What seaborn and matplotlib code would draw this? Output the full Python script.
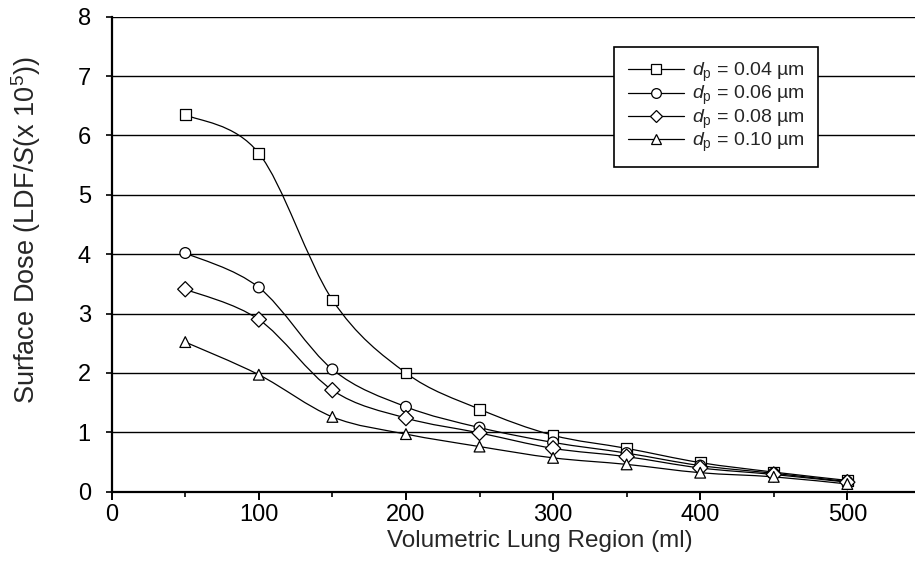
import numpy as np
import pandas as pd
import matplotlib
matplotlib.use("Agg")
import matplotlib.pyplot as plt
from matplotlib.path import Path
from matplotlib.patches import PathPatch
from matplotlib.lines import Line2D
import seaborn as sns

# Valeurs
volumes = [50, 100, 150, 200, 250, 300, 350, 400, 450, 500]
dose_004 = [6.35, 5.70, 3.23, 2.00, 1.39, 0.95, 0.73, 0.49, 0.33, 0.19]
dose_006 = [4.02, 3.44, 2.06, 1.43, 1.08, 0.83, 0.65, 0.44, 0.31, 0.17]
dose_008 = [3.41, 2.90, 1.71, 1.24, 0.99, 0.73, 0.59, 0.40, 0.29, 0.16]
dose_010 = [2.52, 1.97, 1.26, 0.97, 0.76, 0.57, 0.46, 0.32, 0.25, 0.13]
diametres = ["0.04", "0.06", "0.08", "0.10"]
marqueurs = ["s", "o", "D", "^"]

series = [dose_004, dose_006, dose_008, dose_010]
df = pd.concat([pd.DataFrame({"vol": volumes, "dose": s, "dp": d})
                for s, d in zip(series, diametres)], ignore_index=True)

sns.set_theme(style="white")
plt.rcParams["font.family"] = ["Liberation Sans", "DejaVu Sans"]
plt.rcParams["mathtext.fontset"] = "custom"
plt.rcParams["mathtext.rm"] = "Liberation Sans"
plt.rcParams["mathtext.it"] = "Liberation Sans:italic"


# Courbe lissée (type Excel) : Bezier a partir des points
def courbe_lisse(x, y):
    p = np.column_stack([x, y]).astype(float)
    n = len(p)
    verts = [p[0]]
    codes = [Path.MOVETO]
    for i in range(n - 1):
        prev = p[i - 1] if i > 0 else p[i]
        nxt = p[i + 2] if i + 2 < n else p[i + 1]
        c1 = p[i] + (p[i + 1] - prev) / 6
        c2 = p[i + 1] - (nxt - p[i]) / 6
        verts += [c1, c2, p[i + 1]]
        codes += [Path.CURVE4] * 3
    return Path(verts, codes)


fig = plt.figure(figsize=(9.15, 5.77), dpi=100)
ax = fig.add_axes([111.7 / 915, 1 - 491.7 / 577, (915 - 111.7) / 915, 475 / 577])

# Lignes lissées
for s in series:
    ax.add_patch(PathPatch(courbe_lisse(volumes, s), fill=False, edgecolor="black",
                           lw=0.9, zorder=2))

# Marqueurs
sns.scatterplot(data=df, x="vol", y="dose", style="dp", markers=dict(zip(diametres, marqueurs)),
                color="white", edgecolor="black", linewidth=0.9, s=60, zorder=3,
                legend=False, ax=ax)

ax.set_xlim(0, 546)
ax.set_ylim(0, 8)
ax.set_xticks(range(0, 501, 100))
ax.set_xticks(range(50, 501, 100), minor=True)
ax.set_yticks(range(0, 9))
ax.yaxis.grid(True, color="black", lw=1.0)
ax.set_axisbelow(True)

for side in ["right", "top"]:
    ax.spines[side].set_visible(False)
for side in ["left", "bottom"]:
    ax.spines[side].set_color("black")
    ax.spines[side].set_linewidth(1.6)

ax.tick_params(axis="x", which="major", direction="out", length=6, width=1.4,
               colors="black", labelsize=17, pad=3, bottom=True)
ax.tick_params(axis="x", which="minor", direction="out", length=3.5, width=1.2,
               colors="black", bottom=True)
ax.tick_params(axis="y", direction="out", length=4, width=1.2, colors="black",
               labelsize=17, pad=11, left=True)

ax.set_xlabel("Volumetric Lung Region (ml)", fontsize=17.5)
ax.set_ylabel(r"Surface Dose (LDF/$\mathit{S}$(x 10$^5$))", fontsize=19.5)
ax.xaxis.set_label_coords((540 - 111.7) / (915 - 111.7), -(530 - 491.7) / 475)
ax.yaxis.set_label_coords(-(111.7 - 43) / (915 - 111.7), (491.7 - 229.5) / 475)

# Légende
poignees = [Line2D([], [], color="black", lw=0.9, marker=m, markersize=7 if m != "D" else 6,
                   markerfacecolor="white", markeredgecolor="black", markeredgewidth=0.9)
            for m in marqueurs]
etiquettes = [r"$\mathit{d}_\mathrm{p}$ = " + d + " µm" for d in diametres]
leg = ax.legend(poignees, etiquettes, loc="upper left",
                bbox_to_anchor=(614 / 915, 1 - 47.3 / 577), bbox_transform=fig.transFigure,
                borderaxespad=0, fontsize=14, handlelength=2.9, handletextpad=0.4,
                labelspacing=0.0, borderpad=0.7, frameon=True, fancybox=False)
leg.get_frame().set_edgecolor("black")
leg.get_frame().set_linewidth(1.2)
leg.get_frame().set_facecolor("white")
leg.get_frame().set_alpha(1)

fig.savefig("out.png", dpi=100)
